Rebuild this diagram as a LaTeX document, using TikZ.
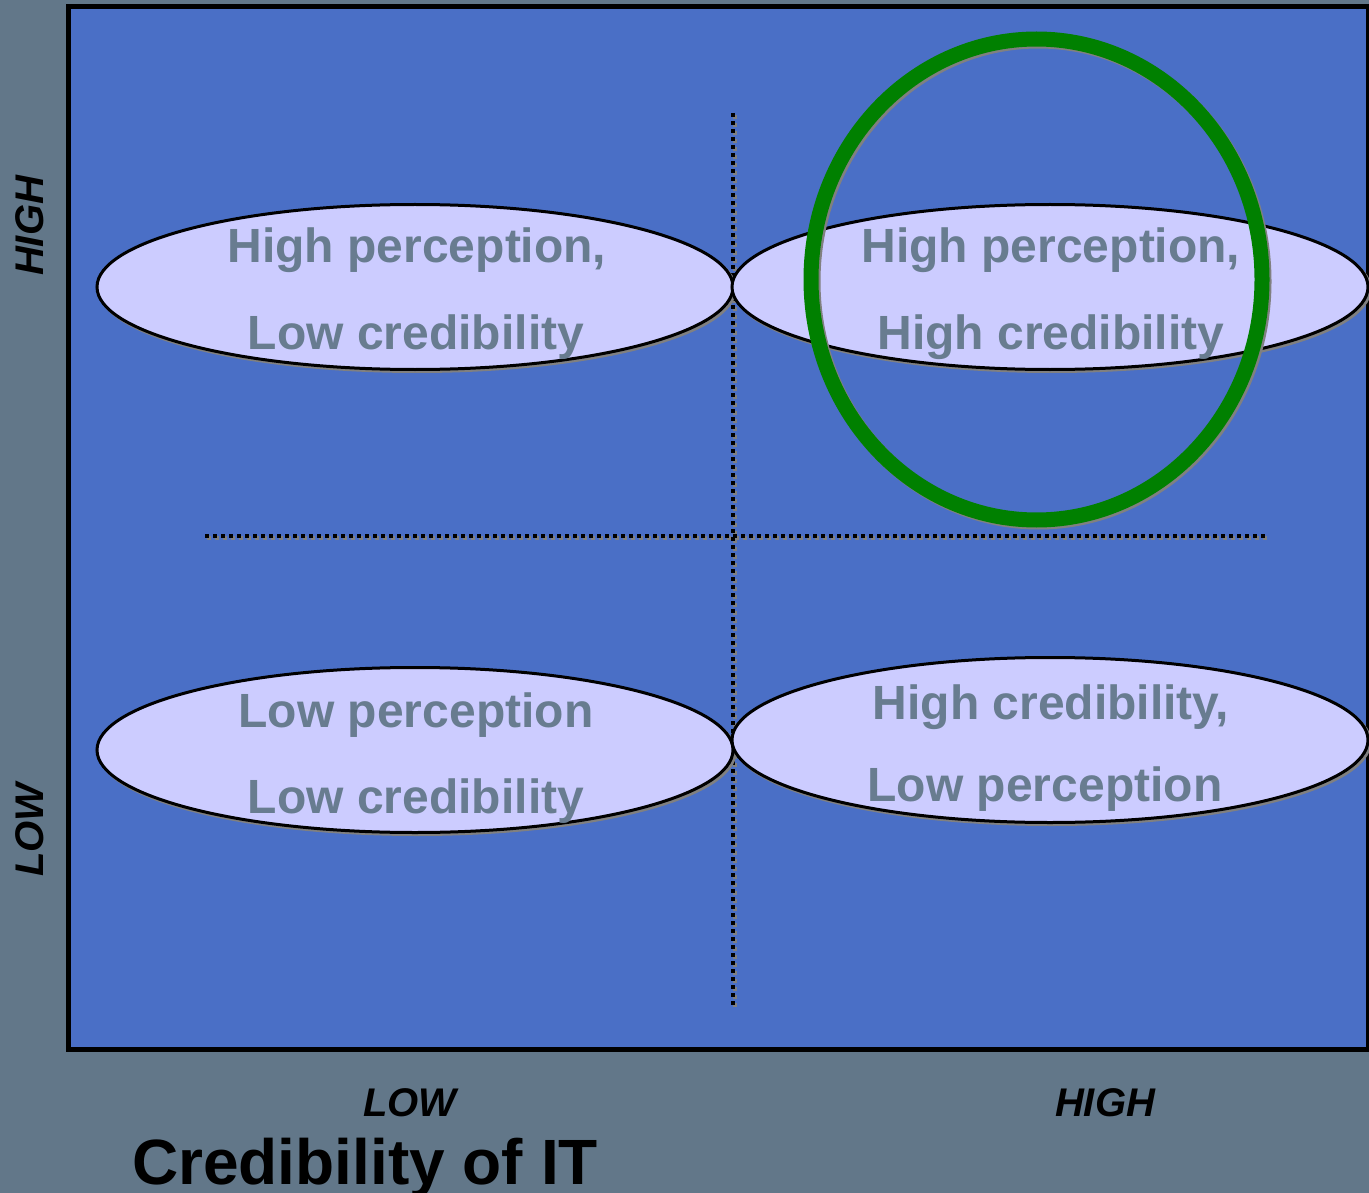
\documentclass[tikz,border=0pt]{standalone}
\usepackage{fontspec}
\setmainfont{Liberation Sans}
\usetikzlibrary{shapes.geometric}
\definecolor{bggray}{HTML}{627789}
\definecolor{panelblue}{HTML}{4A6FC6}
\definecolor{ellfill}{HTML}{CCCCFF}
\definecolor{txtgray}{HTML}{687C90}
\definecolor{shadowgray}{HTML}{808080}
\definecolor{ringgreen}{HTML}{008000}
\begin{document}
\begin{tikzpicture}[x=1pt,y=-1pt,
  quad/.style={ellipse, draw=black, line width=3pt, fill=ellfill,
    minimum width=636pt, minimum height=165pt, inner sep=0pt,
    preaction={draw=shadowgray, line width=3pt, transform canvas={shift={(2pt,-2pt)}}}},
  qtext/.style={anchor=base, text=txtgray, font=\bfseries\fontsize{48}{50}\selectfont, inner sep=0pt},
  axlab/.style={anchor=base, font=\bfseries\itshape\fontsize{40}{42}\selectfont, inner sep=0pt},
  divider/.style={line width=3.5pt, dash pattern=on 4pt off 4pt},
  divshadow/.style={line width=3.5pt, dash pattern=on 4pt off 4pt, draw=shadowgray}
]
\useasboundingbox (0,0) rectangle (1369,1193);
\fill[bggray] (0,0) rectangle (1369,1193);
\fill[panelblue] (68,7) rectangle (1368,1049);
\draw[line width=5pt] (68,7) rectangle (1368,1049);

% dividers
\coordinate (vtop) at (733,113);
\coordinate (vbot) at (733,1005);
\coordinate (hl) at (205,536);
\coordinate (hr) at (1265,536);
\draw[divshadow, transform canvas={shift={(2pt,-2pt)}}] (vtop) -- (vbot);
\draw[divshadow, transform canvas={shift={(2pt,-2pt)}}] (hl) -- (hr);
\draw[divider] (vtop) -- (vbot);
\draw[divider] (hl) -- (hr);

% quadrant ellipses
\node[quad] (tl) at (415,287) {};
\node[quad] (tr) at (1050,287) {};
\node[quad] (bl) at (415,750) {};
\node[quad] (br) at (1050,740) {};

\node[qtext] (tl1) at (417,263) {High perception,};
\node[qtext] (tl2) at (416,349) {Low credibility};
\node[qtext] (tr1) at (1051,263) {High perception,};
\node[qtext] (tr2) at (1051,349) {High credibility};
\node[qtext] (bl1) at (416,727) {Low perception};
\node[qtext] (bl2) at (416,813) {Low credibility};
\node[qtext] (br1) at (1051,719) {High credibility,};
\node[qtext] (br2) at (1045,801) {Low perception};

% focus ring
\node[ellipse, draw=ringgreen, line width=15pt, minimum width=451pt, minimum height=481pt, inner sep=0pt,
  preaction={draw=shadowgray, line width=15pt, transform canvas={shift={(2pt,-2pt)}}}] (focus) at (1036.5,279.5) {};

% axis labels
\node[axlab, rotate=90] (yhigh) at (43,226) {HIGH};
\node[axlab, rotate=90] (ylow) at (43,830) {LOW};
\node[axlab] (xlow) at (410,1116) {LOW};
\node[axlab] (xhigh) at (1105,1116) {HIGH};
\node[anchor=base west, inner sep=0pt, font=\bfseries\fontsize{64}{66}\selectfont] (xtitle) at (132,1184) {Credibility of IT};
\end{tikzpicture}
\end{document}
